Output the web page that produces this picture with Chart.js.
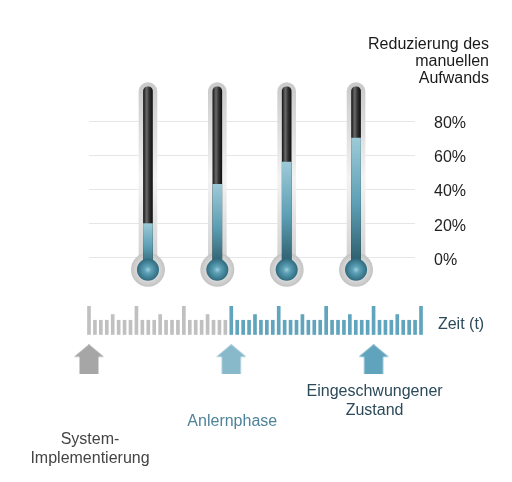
<!DOCTYPE html>
<html>
<head>
<meta charset="utf-8">
<script src="https://cdn.jsdelivr.net/npm/chart.js@4.4.0/dist/chart.umd.min.js"></script>
<style>
  html, body { margin: 0; padding: 0; background: #fff; }
  #wrap { position: relative; width: 512px; height: 482px; overflow: hidden; }
  #thermo { position: absolute; left: 0; top: 0; }
  #zeit { position: absolute; left: 0; top: 290px; }
</style>
</head>
<body>
<div id="wrap">
  <canvas id="thermo" width="512" height="309"></canvas>
  <canvas id="zeit" width="512" height="192"></canvas>
</div>
<script>
// Daten
const thermoNames = ['1', '2', '3', '4'];
const fillLevels = [20, 43, 56, 70];
const yTicks = [0, 20, 40, 60, 80];
const titleLines = ['Reduzierung des', 'manuellen', 'Aufwands'];

const greyTicks = [10, 5, 5, 5, 7, 5, 5, 5, 10, 5, 5, 5, 7, 5, 5, 5, 10, 5, 5, 5, 7, 5, 5, 5];
const blueTicks = [10, 5, 5, 5, 7, 5, 5, 5, 10, 5, 5, 5, 7, 5, 5, 5, 10, 5, 5, 5, 7, 5, 5, 5,
                   10, 5, 5, 5, 7, 5, 5, 5, 10];
const phaseStart = [0, 24, 48];
const phaseLabels = [['System-', 'Implementierung'], ['Anlernphase'], ['Eingeschwungener', 'Zustand']];
const timeLabel = 'Zeit (t)';

// Form der Thermometer
const TUBE_TOP = 100;
const TRACK_TOP = 102.5;
const BULB_Y = -7;
const ARROW_Y = -8.7;

Chart.defaults.font.family = '"Liberation Sans", Arial, sans-serif';
Chart.defaults.font.size = 16;
Chart.defaults.animation = false;
Chart.defaults.plugins.legend.display = false;
Chart.defaults.plugins.tooltip.enabled = false;

const xs = thermoNames.map((n, i) => i + 1);

const px = ctx => ctx.chart.scales.x.getPixelForValue(ctx.raw.x);
const py = (ctx, v) => ctx.chart.scales.y.getPixelForValue(v);

const trackFill = ctx => {
  const area = ctx.chart.chartArea;
  if (!area) return '#d4d4d4';
  const g = ctx.chart.ctx.createLinearGradient(0, area.top, 0, area.bottom);
  g.addColorStop(0, '#cbcbcb');
  g.addColorStop(0.45, '#f3f3f3');
  g.addColorStop(1, '#c4c4c4');
  return g;
};

const tubeFill = ctx => {
  if (!ctx.chart.chartArea) return '#333';
  const x = px(ctx);
  const g = ctx.chart.ctx.createLinearGradient(x - 4.5, 0, x + 4.5, 0);
  g.addColorStop(0, '#1a1a1a');
  g.addColorStop(0.35, '#6a6a6a');
  g.addColorStop(0.65, '#333');
  g.addColorStop(1, '#111');
  return g;
};

const liquidFill = ctx => {
  if (!ctx.chart.chartArea) return '#5fa3b8';
  const top = py(ctx, ctx.raw.y[1]);
  const bottom = py(ctx, BULB_Y);
  const g = ctx.chart.ctx.createLinearGradient(0, top, 0, bottom);
  g.addColorStop(0, '#9dcad7');
  g.addColorStop(0.5, '#5c9fb4');
  g.addColorStop(1, '#285563');
  return g;
};

const bulbFill = ctx => {
  if (!ctx.chart.chartArea) return '#4b93ab';
  const x = px(ctx), y = py(ctx, ctx.raw.y);
  const g = ctx.chart.ctx.createRadialGradient(x, y, 0, x, y, 11);
  g.addColorStop(0, '#a3cfdc');
  g.addColorStop(0.3, '#5ea3b9');
  g.addColorStop(1, '#2f6a7e');
  return g;
};

const ringFill = ctx => {
  if (!ctx.chart.chartArea) return '#cbcbcb';
  const x = px(ctx), y = py(ctx, ctx.raw.y);
  const g = ctx.chart.ctx.createRadialGradient(x, y, 10, x, y, 17);
  g.addColorStop(0, '#dcdcdc');
  g.addColorStop(1, '#c3c3c3');
  return g;
};

new Chart(document.getElementById('thermo'), {
  type: 'bar',
  data: {
    datasets: [
      {
        type: 'line', order: 0, showLine: false, clip: false,
        data: xs.map(x => ({ x, y: BULB_Y })),
        pointRadius: 11, pointHoverRadius: 11, pointBorderWidth: 0,
        pointBackgroundColor: bulbFill
      },
      {
        order: 1, clip: false, barThickness: 9,
        data: fillLevels.map((v, i) => ({ x: xs[i], y: [BULB_Y, v] })),
        backgroundColor: liquidFill
      },
      {
        order: 2, clip: false, barThickness: 9, borderRadius: 5,
        data: xs.map(x => ({ x, y: [BULB_Y, TUBE_TOP] })),
        backgroundColor: tubeFill
      },
      {
        type: 'line', order: 3, showLine: false, clip: false,
        data: xs.map(x => ({ x, y: BULB_Y })),
        pointRadius: 17, pointHoverRadius: 17, pointBorderWidth: 0,
        pointBackgroundColor: ringFill
      },
      {
        order: 4, clip: false, barThickness: 18, borderRadius: 9,
        data: xs.map(x => ({ x, y: [BULB_Y - 1, TRACK_TOP] })),
        backgroundColor: trackFill
      }
    ]
  },
  options: {
    responsive: false,
    datasets: { bar: { grouped: false } },
    layout: { padding: { left: 89, right: 23, top: 0, bottom: 9 } },
    plugins: {
      title: {
        display: true, text: titleLines, align: 'end', color: '#1a1a1a',
        font: { size: 16, weight: 'normal', lineHeight: 1.06 },
        padding: { top: 36, bottom: 0 }
      }
    },
    scales: {
      x: { type: 'linear', min: 0.15, max: 4.85, offset: false, display: false },
      y: {
        position: 'right', min: -20, max: 100,
        afterBuildTicks: axis => { axis.ticks = yTicks.map(v => ({ value: v })); },
        afterFit: axis => {
          axis.width = 74;
          axis.paddingTop = 0;
          axis.paddingBottom = 0;
        },
        grid: { color: '#e6e6e6', drawTicks: false },
        border: { display: false },
        ticks: { crossAlign: 'near', padding: 19, labelOffset: 2.5, color: '#222', callback: v => v + '%' }
      }
    }
  }
});

// Pfeile als Punktsymbole
function makeArrow(color) {
  const c = document.createElement('canvas');
  c.width = 30; c.height = 30;
  const g = c.getContext('2d');
  g.fillStyle = color;
  g.beginPath();
  g.moveTo(0, 12.5); g.lineTo(15, 0); g.lineTo(30, 12.5);
  g.lineTo(24.5, 12.5); g.lineTo(24.5, 30); g.lineTo(5.5, 30); g.lineTo(5.5, 12.5);
  g.closePath();
  g.fill();
  return c;
}
const arrowImages = ['#a6a6a6', '#87b9cb', '#5fa3bc'].map(makeArrow);

const phaseText = {
  id: 'phaseText',
  afterDraw(chart, args, opts) {
    const { ctx, scales: { x, y } } = chart;
    ctx.save();
    ctx.font = '16px "Liberation Sans", Arial, sans-serif';
    ctx.textAlign = 'center';
    ctx.textBaseline = 'middle';
    phaseLabels.forEach((lines, i) => {
      ctx.fillStyle = opts.colors[i];
      lines.forEach((t, j) => {
        ctx.fillText(t, x.getPixelForValue(phaseStart[i]) + 1, opts.top[i] + j * opts.lineHeight);
      });
    });
    ctx.fillStyle = opts.timeColor;
    ctx.textAlign = 'left';
    ctx.fillText(timeLabel, chart.chartArea.right + 11, y.getPixelForValue(0) - 10);
    ctx.restore();
  }
};

new Chart(document.getElementById('zeit'), {
  type: 'bar',
  data: {
    datasets: [
      {
        type: 'line', showLine: false, clip: false,
        data: phaseStart.map(x => ({ x, y: ARROW_Y })),
        pointStyle: ctx => arrowImages[ctx.dataIndex],
        pointRadius: 15, pointHoverRadius: 15
      },
      {
        data: greyTicks.map((h, i) => ({ x: i, y: h })),
        backgroundColor: '#c0c0c0', barThickness: 3, grouped: false
      },
      {
        data: blueTicks.map((h, i) => ({ x: greyTicks.length + i, y: h })),
        backgroundColor: '#60a5bd', barThickness: 3, grouped: false
      }
    ]
  },
  options: {
    responsive: false,
    layout: { padding: { left: 83.07, right: 85.07, top: 14, bottom: 62 } },
    plugins: {
      phaseText: {
        colors: ['#444', '#4f8399', '#2c4a5a'],
        top: [150, 132, 102],
        lineHeight: 19,
        timeColor: '#2c4a5a'
      }
    },
    scales: {
      x: { type: 'linear', min: -1, max: 57, offset: false, display: false },
      y: { min: -30, max: 10, display: false }
    }
  },
  plugins: [phaseText]
});
</script>
</body>
</html>
